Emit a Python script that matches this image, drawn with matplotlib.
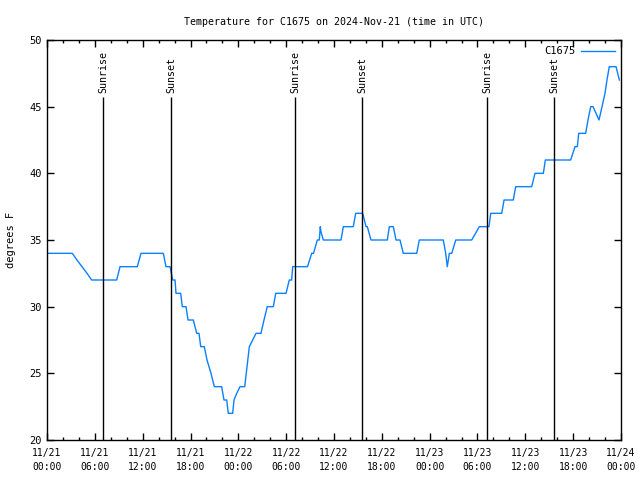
import matplotlib
matplotlib.use("Agg")
import matplotlib.pyplot as plt
import numpy as np

# ===== data (hours since 2024-11-21 00:00 UTC, deg F) =====
hours = [0.0, 3.17, 3.76, 4.39, 5.02, 5.6, 8.74, 9.16, 11.33, 11.79, 14.59, 14.93,
         15.43, 15.77, 16.06, 16.18, 16.77, 16.97, 17.44, 17.69, 18.35, 18.78, 19.07,
         19.28, 19.73, 20.07, 20.57, 20.99, 21.91, 22.2, 22.54, 22.74, 23.29, 23.46,
         23.8, 24.21, 24.8, 25.38, 26.22, 26.84, 27.22, 27.63, 28.39, 28.69, 29.98,
         30.39, 30.69, 30.82, 32.68, 33.2, 33.43, 33.91, 34.16, 34.28, 34.37, 34.66,
         36.88, 37.17, 38.42, 38.72, 39.6, 40.02, 40.18, 40.64, 42.69, 42.94, 43.44,
         43.78, 44.28, 44.69, 46.38, 46.7, 49.71, 50.01, 50.21, 50.47, 50.77, 51.27,
         53.27, 54.23, 55.44, 55.66, 57.04, 57.33, 58.49, 58.79, 60.8, 61.21, 62.26,
         62.51, 65.69, 66.23, 66.52, 66.7, 67.57, 67.86, 68.2, 68.49, 69.24, 69.62,
         69.99, 70.24, 70.53, 71.38, 71.79]
temps = [34, 34, 33.5, 33, 32.5, 32, 32, 33, 33, 34, 34, 33,
         33, 32, 32, 31, 31, 30, 30, 29, 29, 28, 28,
         27, 27, 26, 25, 24, 24, 23, 23, 22, 22, 23,
         23.5, 24, 24, 27, 28, 28, 29, 30, 30, 31, 31,
         32, 32, 33, 33, 34, 34, 35, 35, 36, 35.6, 35,
         35, 36, 36, 37, 37, 36, 36, 35, 35, 36, 36,
         35, 35, 34, 34, 35, 35, 34, 33, 34, 34, 35,
         35, 36, 36, 37, 37, 38, 38, 39, 39, 40, 40,
         41, 41, 42, 42, 43, 43, 44, 45, 45, 44, 45,
         46, 47, 48, 48, 47]

sun_hours = [7.02, 15.55, 31.1, 39.5, 55.2, 63.6]
sun_labels = ["Sunrise", "Sunset", "Sunrise", "Sunset", "Sunrise", "Sunset"]

tick_hours = list(range(0, 73, 6))
tick_labels = ["11/21\n00:00", "11/21\n06:00", "11/21\n12:00", "11/21\n18:00",
               "11/22\n00:00", "11/22\n06:00", "11/22\n12:00", "11/22\n18:00",
               "11/23\n00:00", "11/23\n06:00", "11/23\n12:00", "11/23\n18:00",
               "11/24\n00:00"]

plt.rcParams["font.family"] = ["DejaVu Sans Mono"]
plt.rcParams["font.size"] = 7.5

fig = plt.figure(figsize=(6.4, 4.8), dpi=100)
ax = fig.add_axes([47 / 640, 40 / 480, 574 / 640, 400 / 480])

ax.plot(hours, temps, color="#0a80ff", linewidth=1.0, label="C1675")

# sunrise / sunset markers, label sits just above the line
for h, lab in zip(sun_hours, sun_labels):
    ax.vlines(h, 20, 45.7, color="black", linewidth=1.0)
    ax.text(h, 46.05, lab, rotation=90, ha="center", va="bottom", fontsize=7.2)

ax.set_xlim(0, 72)
ax.set_ylim(20, 50)
ax.set_xticks(tick_hours)
ax.set_xticklabels(tick_labels, linespacing=1.5, fontsize=7)
ax.set_xticks(np.arange(0, 73, 2), minor=True)
ax.set_yticks(range(20, 51, 5))
ax.tick_params(which="both", direction="in", top=True, right=True, width=1.0)
ax.tick_params(which="major", length=5)
ax.tick_params(which="minor", length=2.5)
ax.tick_params(axis="x", pad=6)
for sp in ax.spines.values():
    sp.set_linewidth(1.0)

ax.set_ylabel("degrees F", labelpad=10)
ax.set_title("Temperature for C1675 on 2024-Nov-21 (time in UTC)", fontsize=7.2, pad=11)

ax.legend(loc="upper right", frameon=False, markerfirst=False, handlelength=3.2,
          handletextpad=0.6, borderaxespad=0.2, fontsize=7.5)

fig.savefig("out.png", dpi=100)
